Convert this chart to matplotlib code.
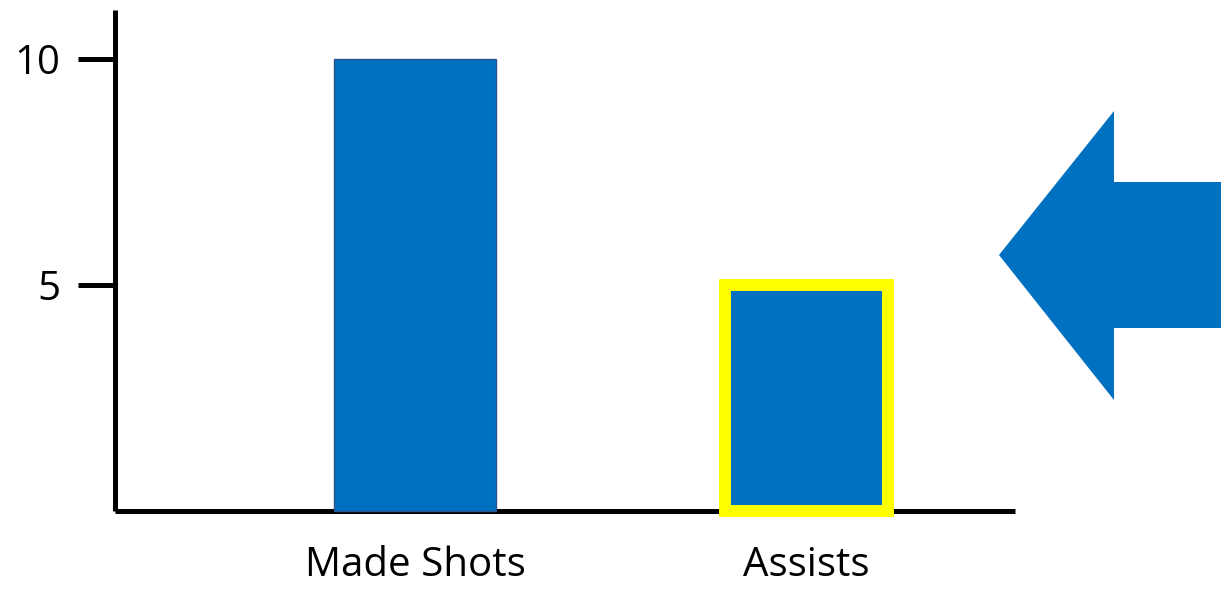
import matplotlib.pyplot as plt
from matplotlib.patches import Polygon

# data
categories = ["Made Shots", "Assists"]
values = [10, 5]
yticks = [5, 10]

blue = "#0070C0"
yellow = "#FFFF00"

W, H = 1221, 590
fig = plt.figure(figsize=(W / 100, H / 100), dpi=100)
plt.rcParams['font.family'] = ['Open Sans', 'DejaVu Sans']

ax = fig.add_axes([114.5 / W, 1 - 511 / H, (1015 - 114.5) / W, 501 / H])

x = list(range(len(categories)))
bars = ax.bar(x, values, width=0.414, color=blue, zorder=3, clip_on=False)
bars[0].set_edgecolor("#2F528F")
bars[0].set_linewidth(1.0)
bars[1].set_edgecolor(yellow)
bars[1].set_linewidth(8.6)

ax.set_xlim(-0.7676, 1.5326)
ax.set_ylim(0, 11.08)

for s in ["top", "right"]:
    ax.spines[s].set_visible(False)
for s in ["left", "bottom"]:
    ax.spines[s].set_linewidth(3.6)
    ax.spines[s].set_capstyle("butt")

ax.set_yticks(yticks)
ax.set_yticklabels([str(t) for t in yticks])
ax.tick_params(axis="y", length=27, width=3.6, labelsize=29, pad=12)
ax.set_xticks(x)
ax.set_xticklabels(categories)
ax.tick_params(axis="x", length=0, labelsize=29, pad=25)

# arrow on the right pointing at the chart
pts = [(999, 255), (1114, 111), (1114, 182), (1221, 182),
       (1221, 328), (1114, 328), (1114, 400)]
arrow = Polygon([(px / W, 1 - py / H) for px, py in pts], closed=True,
                facecolor=blue, edgecolor="none", transform=fig.transFigure)
fig.patches.append(arrow)

fig.savefig("out.png", dpi=100)
